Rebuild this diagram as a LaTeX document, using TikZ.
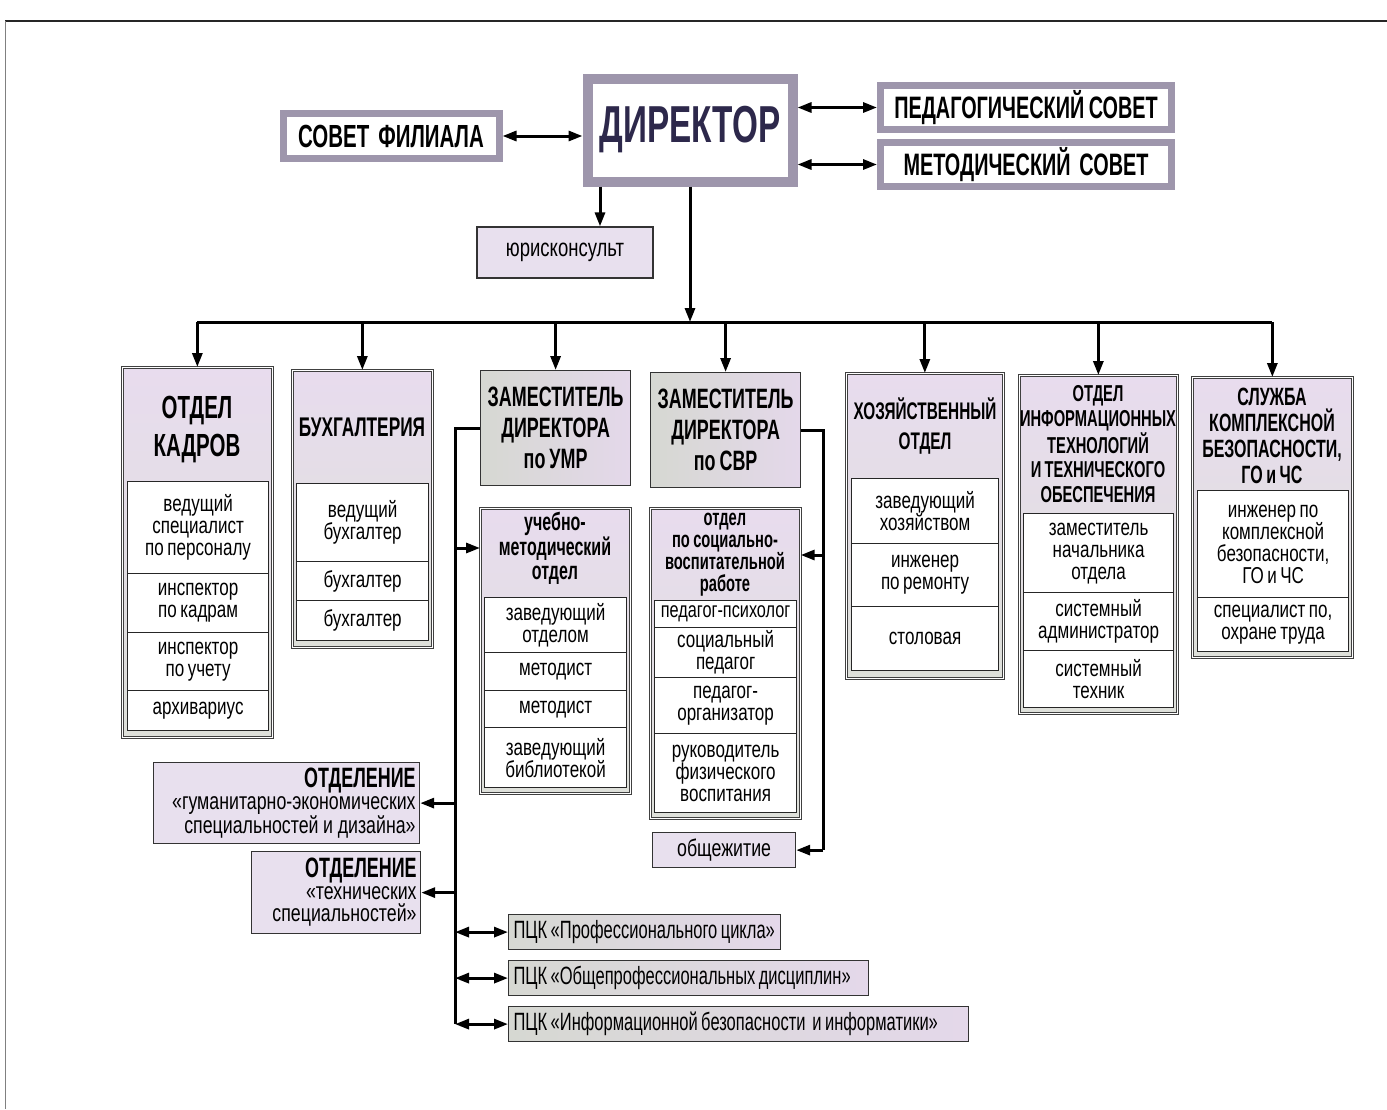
\documentclass[tikz,border=0pt]{standalone}
\usepackage{fontspec}
\setmainfont[FakeStretch=0.74,WordSpace=0.74]{Liberation Sans}
\newfontfamily\hf[FakeStretch=0.64,WordSpace=0.8]{Liberation Sans}
\newfontfamily\pf[FakeStretch=0.66,WordSpace=0.75]{Liberation Sans}
\usetikzlibrary{arrows.meta}
\newcommand\nsp{\spaceskip=0pt\xspaceskip=0pt\relax}

\definecolor{dirframe}{RGB}{158,150,172}
\definecolor{lavtop}{RGB}{232,220,238}
\definecolor{lavbot}{RGB}{222,224,218}
\definecolor{zamleft}{RGB}{214,216,210}
\definecolor{zamright}{RGB}{228,216,234}
\definecolor{lavfill}{RGB}{232,224,238}
\definecolor{dirtext}{RGB}{45,40,75}

\tikzset{
  con/.style={line width=1.5pt, black},
  arr/.style={con, -{Triangle[length=7pt,width=5pt]}},
  biarr/.style={con, {Triangle[length=7pt,width=5pt]}-{Triangle[length=7pt,width=5pt]}},
  topbox/.style={draw=dirframe, line width=3.5pt, fill=white, inner sep=0pt, font=\hf\bfseries\fontsize{16}{18}\selectfont},
  col/.style={draw=black!75, line width=0.35pt, double=white, double distance=0.8pt, top color=lavtop, bottom color=lavbot, anchor=north west, inner sep=0pt},
  sub/.style={draw=black!85, line width=0.6pt, fill=white, anchor=north west, inner sep=0pt, align=center, font=\fontsize{11.5}{11}\selectfont},
  hd/.style={align=center, inner sep=0pt, font=\hf\bfseries\fontsize{13}{15}\selectfont},
  zam/.style={draw=black!80, line width=0.6pt, left color=zamleft, right color=zamright, anchor=north west, align=center, inner sep=0pt, minimum width=75pt, minimum height=57.5pt, font=\hf\bfseries\fontsize{14}{15.5}\selectfont},
  lbox/.style={draw=black!80, line width=0.6pt, fill=lavfill, anchor=north west, inner sep=0pt},
  otdbox/.style={lbox, text width=#1, align=right, inner sep=2pt, minimum height=40.5pt, font=\fontsize{12}{11}\selectfont},
  pck/.style={draw=black!80, line width=0.6pt, left color=zamleft, right color=zamright, anchor=north west, inner sep=2.5pt, align=left, minimum height=17.5pt, font=\pf\fontsize{12.5}{13}\selectfont},
}

\begin{document}
\begin{tikzpicture}[x=0.5pt,y=-0.5pt]
  \useasboundingbox (0,0) rectangle (1387,1109);
  % frame
  \draw[line width=1.4pt, black!85] (5,21) -- (1387,21);
  \draw[line width=0.5pt, black!50] (5,21) -- (5,1109);

  % top level
  \node[topbox, line width=5pt, minimum width=102.5pt, minimum height=51.5pt, text=dirtext, font=\hf\bfseries\fontsize{26}{28}\selectfont] (dir) at (690,130) {ДИРЕКТОР};
  \node[topbox, minimum width=108pt, minimum height=22.5pt] (sovet) at (391,136) {СОВЕТ\ \ ФИЛИАЛА};
  \node[topbox, minimum width=145.5pt, minimum height=22pt, font=\hf\bfseries\fontsize{15.5}{18}\selectfont] (ped) at (1026,107.5) {ПЕДАГОГИЧЕСКИЙ СОВЕТ};
  \node[topbox, minimum width=145.5pt, minimum height=22pt, font=\hf\bfseries\fontsize{15.5}{18}\selectfont] (met) at (1026,164.5) {МЕТОДИЧЕСКИЙ\ \ СОВЕТ};
  \node[lbox, anchor=center, minimum width=88pt, minimum height=25.5pt, font=\fontsize{12.5}{12}\selectfont] (yur) at (565,252.5) {юрисконсульт};

  \draw[biarr] (sovet.east) -- (sovet.east -| dir.west);
  \draw[biarr] (ped.west -| dir.east) -- (ped.west);
  \draw[biarr] (met.west -| dir.east) -- (met.west);
  \draw[arr] ([xshift=-45pt]dir.south) -- ([xshift=-45pt]dir.south |- yur.north);

  % columns
  \node[col, minimum width=75pt, minimum height=185pt] (kadry) at (122,367) {};
  \node[hd, font=\hf\bfseries\fontsize{16}{19}\selectfont] (kadryhd) at (197,430) {ОТДЕЛ\\КАДРОВ};
  \node[sub, minimum width=70.5pt, minimum height=46pt] (k1) at (127,481) {ведущий\\специалист\\по персоналу};
  \node[sub, minimum width=70.5pt, minimum height=29.5pt] (k2) at (127,573) {инспектор\\по кадрам};
  \node[sub, minimum width=70.5pt, minimum height=29pt] (k3) at (127,632) {инспектор\\по учету};
  \node[sub, minimum width=70.5pt, minimum height=20pt] (k4) at (127,690) {архивариус};

  \node[col, minimum width=70pt, minimum height=138.5pt] (buh) at (292,370) {};
  \node[hd, font=\hf\bfseries\fontsize{13.5}{15}\selectfont] (buhhd) at (362,427) {БУХГАЛТЕРИЯ};
  \node[sub, minimum width=66pt, minimum height=39pt] (b1) at (296,483) {ведущий\\бухгалтер};
  \node[sub, minimum width=66pt, minimum height=19.5pt] (b2) at (296,561) {бухгалтер};
  \node[sub, minimum width=66pt, minimum height=20pt] (b3) at (296,600) {бухгалтер};

  \node[zam] (zamumr) at (480,370) {ЗАМЕСТИТЕЛЬ\\ДИРЕКТОРА\\по УМР};
  \node[col, minimum width=75pt, minimum height=142.5pt] (umo) at (480,508) {};
  \node[hd, font=\hf\bfseries\fontsize{12.5}{11.75}\selectfont] (umohd) at (555,548) {учебно-\\методический\\отдел};
  \node[sub, minimum width=71pt, minimum height=27.5pt] (u1) at (484,597) {заведующий\\отделом};
  \node[sub, minimum width=71pt, minimum height=19pt] (u2) at (484,652) {методист};
  \node[sub, minimum width=71pt, minimum height=18.5pt] (u3) at (484,690) {методист};
  \node[sub, minimum width=71pt, minimum height=30pt] (u4) at (484,727) {заведующий\\библиотекой};

  \node[zam] (zamsvr) at (650,372) {ЗАМЕСТИТЕЛЬ\\ДИРЕКТОРА\\по СВР};
  \node[col, minimum width=75pt, minimum height=155pt] (svo) at (650,508) {};
  \node[hd, font=\hf\bfseries\fontsize{11.5}{11}\selectfont] (svohd) at (725,555) {отдел\\по социально-\\воспитательной\\работе};
  \node[sub, minimum width=71pt, minimum height=13.5pt, font=\fontsize{11}{11}\selectfont] (s1) at (654,600) {педагог-психолог};
  \node[sub, minimum width=71pt, minimum height=25pt] (s2) at (654,627) {социальный\\педагог};
  \node[sub, minimum width=71pt, minimum height=28pt] (s3) at (654,677) {педагог-\\организатор};
  \node[sub, minimum width=71pt, minimum height=39.5pt] (s4) at (654,733) {руководитель\\физического\\воспитания};
  \node[lbox, minimum width=71.5pt, minimum height=17.5pt, font=\fontsize{12}{12}\selectfont] (obsh) at (652,832) {общежитие};

  \node[col, minimum width=78.5pt, minimum height=152.5pt] (hoz) at (846,373) {};
  \node[hd, font=\hf\bfseries\fontsize{12}{15}\selectfont] (hozhd) at (925,426) {ХОЗЯЙСТВЕННЫЙ\\ОТДЕЛ};
  \node[sub, minimum width=73.5pt, minimum height=32.5pt] (h1) at (851,478) {заведующий\\хозяйством};
  \node[sub, minimum width=73.5pt, minimum height=31.5pt] (h2) at (851,543) {инженер\\по ремонту};
  \node[sub, minimum width=73.5pt, minimum height=32pt] (h3) at (851,606) {столовая};

  \node[col, minimum width=79pt, minimum height=169pt] (it) at (1019,375) {};
  \node[hd, font=\hf\bfseries\fontsize{11.5}{12.2}\selectfont] (ithd) at (1098,444) {ОТДЕЛ\\ИНФОРМАЦИОННЫХ\\ТЕХНОЛОГИЙ\\И ТЕХНИЧЕСКОГО\\ОБЕСПЕЧЕНИЯ};
  \node[sub, minimum width=75pt, minimum height=39.5pt] (i1) at (1023,513) {заместитель\\начальника\\отдела};
  \node[sub, minimum width=75pt, minimum height=29pt] (i2) at (1023,592) {системный\\администратор};
  \node[sub, minimum width=75pt, minimum height=28.5pt] (i3) at (1023,650) {системный\\техник};

  \node[col, minimum width=80pt, minimum height=140pt] (sluzh) at (1192,377) {};
  \node[hd, font=\hf\bfseries\fontsize{12.5}{13}\selectfont] (sluzhhd) at (1272,436) {СЛУЖБА\\КОМПЛЕКСНОЙ\\БЕЗОПАСНОСТИ,\\ГО и ЧС};
  \node[sub, minimum width=75.5pt, minimum height=53.5pt] (c1) at (1197,490) {инженер по\\комплексной\\безопасности,\\ГО и ЧС};
  \node[sub, minimum width=75.5pt, minimum height=27pt] (c2) at (1197,597) {специалист по,\\охране труда};

  % departments and cycle commissions
  \node[otdbox=129pt] (otd1) at (153,762) {\nsp{\hf\bfseries\fontsize{14}{14}\selectfont ОТДЕЛЕНИЕ}\\«гуманитарно-экономических\\специальностей и дизайна»};
  \node[otdbox=80.5pt, minimum height=41pt] (otd2) at (251,851) {\nsp{\hf\bfseries\fontsize{14}{14}\selectfont ОТДЕЛЕНИЕ}\\«технических\\специальностей»};
  \node[pck, minimum width=136pt, text width=131pt] (p1) at (508,914) {\nsp\mbox{ПЦК «Профессионального цикла»}};
  \node[pck, minimum width=180pt, text width=175pt] (p2) at (508,960) {\nsp\mbox{ПЦК «Общепрофессиональных дисциплин»}};
  \node[pck, minimum width=230pt, text width=225pt] (p3) at (508,1006) {\nsp\mbox{ПЦК «Информационной безопасности\ \ и информатики»}};

  % main bus
  \coordinate (bus) at (690,322);
  \draw[arr] (dir.south) -- (dir.south |- bus);
  \draw[con] (kadry.north |- bus) -- (sluzh.north |- bus);
  \foreach \c in {kadry,buh,zamumr,zamsvr,hoz,it,sluzh}
    \draw[arr] (\c.north |- bus) -- (\c.north);

  % deputy for teaching
  \coordinate (lx) at (455,0);
  \draw[con] (zamumr.west) -| (lx |- p3.west);
  \draw[arr] (umohd.west -| lx) -- (umohd.west -| umo.west);
  \draw[arr] (otd1.east -| lx) -- (otd1.east);
  \draw[arr] (otd2.east -| lx) -- (otd2.east);
  \foreach \p in {p1,p2,p3}
    \draw[biarr] (\p.west -| lx) -- (\p.west);

  % deputy for social work
  \coordinate (rx) at (823,0);
  \draw[con] (zamsvr.east) -| (rx |- obsh.east);
  \draw[arr] (svohd.east -| rx) -- (svohd.east -| svo.east);
  \draw[arr] (rx |- obsh.east) -- (obsh.east);
\end{tikzpicture}
\end{document}
